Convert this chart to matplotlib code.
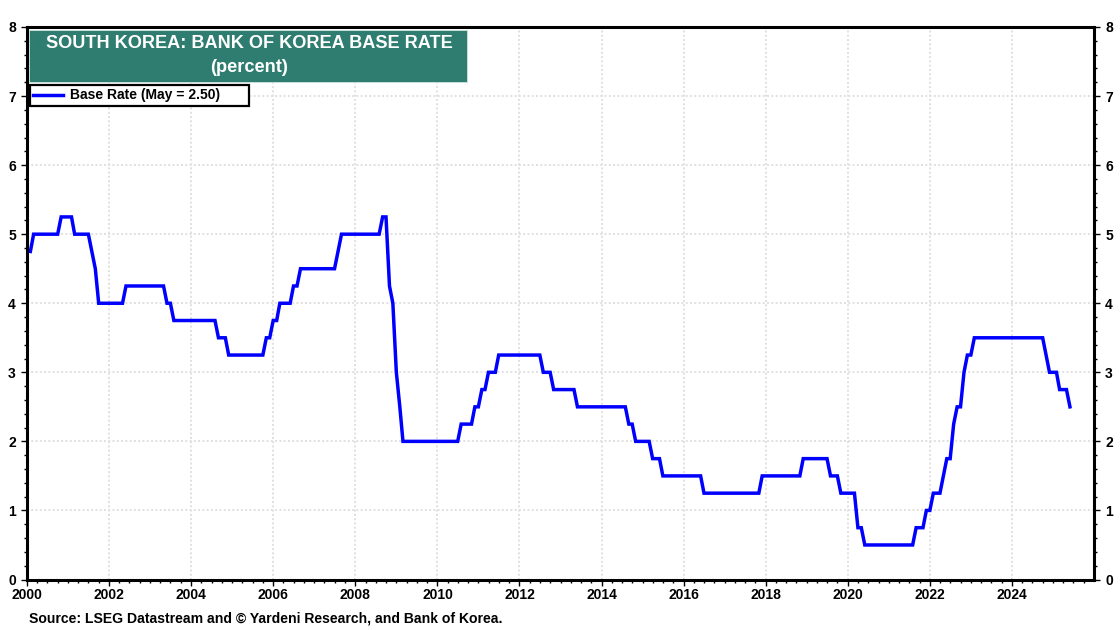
import matplotlib
matplotlib.use("Agg")
import matplotlib.pyplot as plt
import matplotlib.dates as mdates
import pandas as pd
from matplotlib.patches import Rectangle
from matplotlib.ticker import MultipleLocator

plt.rcParams['font.family'] = ['Liberation Sans', 'DejaVu Sans']
plt.rcParams['font.weight'] = 'bold'

# Month-end base rate, one row per year
rates = [
    4.75, 5.00, 5.00, 5.00, 5.00, 5.00, 5.00, 5.00, 5.00, 5.25, 5.25, 5.25,  # 2000
    5.25, 5.00, 5.00, 5.00, 5.00, 5.00, 4.75, 4.50, 4.00, 4.00, 4.00, 4.00,  # 2001
    4.00, 4.00, 4.00, 4.00, 4.25, 4.25, 4.25, 4.25, 4.25, 4.25, 4.25, 4.25,  # 2002
    4.25, 4.25, 4.25, 4.25, 4.00, 4.00, 3.75, 3.75, 3.75, 3.75, 3.75, 3.75,  # 2003
    3.75, 3.75, 3.75, 3.75, 3.75, 3.75, 3.75, 3.50, 3.50, 3.50, 3.25, 3.25,  # 2004
    3.25, 3.25, 3.25, 3.25, 3.25, 3.25, 3.25, 3.25, 3.25, 3.50, 3.50, 3.75,  # 2005
    3.75, 4.00, 4.00, 4.00, 4.00, 4.25, 4.25, 4.50, 4.50, 4.50, 4.50, 4.50,  # 2006
    4.50, 4.50, 4.50, 4.50, 4.50, 4.50, 4.75, 5.00, 5.00, 5.00, 5.00, 5.00,  # 2007
    5.00, 5.00, 5.00, 5.00, 5.00, 5.00, 5.00, 5.25, 5.25, 4.25, 4.00, 3.00,  # 2008
    2.50, 2.00, 2.00, 2.00, 2.00, 2.00, 2.00, 2.00, 2.00, 2.00, 2.00, 2.00,  # 2009
    2.00, 2.00, 2.00, 2.00, 2.00, 2.00, 2.25, 2.25, 2.25, 2.25, 2.50, 2.50,  # 2010
    2.75, 2.75, 3.00, 3.00, 3.00, 3.25, 3.25, 3.25, 3.25, 3.25, 3.25, 3.25,  # 2011
    3.25, 3.25, 3.25, 3.25, 3.25, 3.25, 3.00, 3.00, 3.00, 2.75, 2.75, 2.75,  # 2012
    2.75, 2.75, 2.75, 2.75, 2.50, 2.50, 2.50, 2.50, 2.50, 2.50, 2.50, 2.50,  # 2013
    2.50, 2.50, 2.50, 2.50, 2.50, 2.50, 2.50, 2.25, 2.25, 2.00, 2.00, 2.00,  # 2014
    2.00, 2.00, 1.75, 1.75, 1.75, 1.50, 1.50, 1.50, 1.50, 1.50, 1.50, 1.50,  # 2015
    1.50, 1.50, 1.50, 1.50, 1.50, 1.25, 1.25, 1.25, 1.25, 1.25, 1.25, 1.25,  # 2016
    1.25, 1.25, 1.25, 1.25, 1.25, 1.25, 1.25, 1.25, 1.25, 1.25, 1.50, 1.50,  # 2017
    1.50, 1.50, 1.50, 1.50, 1.50, 1.50, 1.50, 1.50, 1.50, 1.50, 1.75, 1.75,  # 2018
    1.75, 1.75, 1.75, 1.75, 1.75, 1.75, 1.50, 1.50, 1.50, 1.25, 1.25, 1.25,  # 2019
    1.25, 1.25, 0.75, 0.75, 0.50, 0.50, 0.50, 0.50, 0.50, 0.50, 0.50, 0.50,  # 2020
    0.50, 0.50, 0.50, 0.50, 0.50, 0.50, 0.50, 0.75, 0.75, 0.75, 1.00, 1.00,  # 2021
    1.25, 1.25, 1.25, 1.50, 1.75, 1.75, 2.25, 2.50, 2.50, 3.00, 3.25, 3.25,  # 2022
    3.50, 3.50, 3.50, 3.50, 3.50, 3.50, 3.50, 3.50, 3.50, 3.50, 3.50, 3.50,  # 2023
    3.50, 3.50, 3.50, 3.50, 3.50, 3.50, 3.50, 3.50, 3.50, 3.25, 3.00, 3.00,  # 2024
    3.00, 2.75, 2.75, 2.75, 2.50,  # 2025
]
dates = pd.date_range("2000-01-31", periods=len(rates), freq="ME")

title_lines = ["SOUTH KOREA: BANK OF KOREA BASE RATE", "(percent)"]
legend_label = "Base Rate (May = 2.50)"
source_text = "Source: LSEG Datastream and © Yardeni Research, and Bank of Korea."

W, H = 1120, 630
fig = plt.figure(figsize=(W / 100, H / 100), dpi=100)
ax = fig.add_axes([27 / W, 1 - 579.5 / H, (1094 - 27) / W, (579.5 - 27) / H])

ax.plot(dates, rates, color="#0000ff", lw=2.5, solid_joinstyle="miter", label=legend_label)

# stop just short of 2026 so that year gets no label
ax.set_xlim(pd.Timestamp("2000-01-01"), pd.Timestamp("2025-12-31"))
ax.set_ylim(0, 8)

# axes and ticks
ax.xaxis.set_major_locator(mdates.YearLocator(2))
ax.xaxis.set_major_formatter(mdates.DateFormatter("%Y"))
ax.xaxis.set_minor_locator(mdates.MonthLocator(bymonth=[1, 4, 7, 10]))
ax.yaxis.set_major_locator(MultipleLocator(1))
ax.yaxis.set_minor_locator(MultipleLocator(0.2))
ax.tick_params(axis="x", which="major", length=4, width=1, labelsize=10, pad=2)
ax.tick_params(axis="x", which="minor", length=2, width=1)
ax.tick_params(axis="y", which="major", length=4, width=1, labelsize=10, pad=4,
               left=True, right=True, labelleft=True, labelright=True)
ax.tick_params(axis="y", which="minor", length=2, width=1, left=True, right=True)
ax.grid(True, which="major", color="#e0e0e0", linestyle=(0, (1, 1.2)), linewidth=1.4)
ax.set_axisbelow(True)
for spine in ax.spines.values():
    spine.set_linewidth(2.2)

# title banner
fig.add_artist(Rectangle((29 / W, 1 - 82 / H), (467 - 29) / W, 52 / H, transform=fig.transFigure,
                         facecolor="#2f7d70", edgecolor="#cfe3de", linewidth=0.6, zorder=5))
fig.text(249 / W, 1 - 43.5 / H, title_lines[0], color="white", fontsize=13.05, ha="center", va="center", zorder=6)
fig.text(249 / W, 1 - 68 / H, title_lines[1], color="white", fontsize=13.05, ha="center", va="center", zorder=6)

# legend box
leg = ax.legend(loc="upper left", bbox_to_anchor=(30 / W, 1 - 106 / H, 219 / W, 21 / H),
                bbox_transform=fig.transFigure, mode="expand", borderaxespad=0, borderpad=0.25,
                handlelength=2.15, handletextpad=0.5, fontsize=10, fancybox=False,
                edgecolor="black", framealpha=1)
leg.get_frame().set_linewidth(1.6)
leg.set_zorder(6)

fig.text(29 / W, 1 - 618.5 / H, source_text, fontsize=10.1, color="black", ha="left", va="center")

fig.savefig("out.png", dpi=100)
